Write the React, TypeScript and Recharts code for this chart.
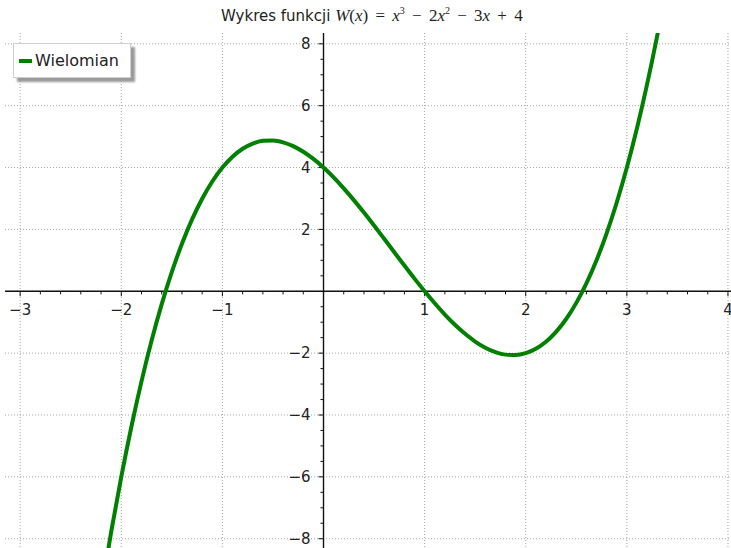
import React from 'react';
import {
  LineChart,
  Line,
  XAxis,
  YAxis,
  CartesianGrid,
  ReferenceLine,
  ReferenceDot,
  Legend,
} from 'recharts';

// W(x) sampled every 0.1 across the visible part of the curve
const xValues = [
  -2.2, -2.1, -2.0, -1.9, -1.8, -1.7, -1.6, -1.5, -1.4, -1.3, -1.2, -1.1, -1.0, -0.9, -0.8, -0.7, -0.6,
  -0.5, -0.4, -0.3, -0.2, -0.1, 0.0, 0.1, 0.2, 0.3, 0.4, 0.5, 0.6, 0.7, 0.8, 0.9, 1.0, 1.1, 1.2, 1.3,
  1.4, 1.5, 1.6, 1.7, 1.8, 1.9, 2.0, 2.1, 2.2, 2.3, 2.4, 2.5, 2.6, 2.7, 2.8, 2.9, 3.0, 3.1, 3.2, 3.3, 3.4,
];
const wValues = [
  -9.728, -7.781, -6.0, -4.379, -2.912, -1.593, -0.416, 0.625, 1.536, 2.323, 2.992, 3.549, 4.0, 4.351,
  4.608, 4.777, 4.864, 4.875, 4.816, 4.693, 4.512, 4.279, 4.0, 3.681, 3.328, 2.947, 2.544, 2.125, 1.696,
  1.263, 0.832, 0.409, 0.0, -0.389, -0.752, -1.083, -1.376, -1.625, -1.824, -1.967, -2.048, -2.061, -2.0,
  -1.859, -1.632, -1.313, -0.896, -0.375, 0.256, 1.003, 1.872, 2.869, 4.0, 5.271, 6.688, 8.257, 9.984,
];

const xTickLabels = [-3, -2, -1, 1, 2, 3, 4];
const yTickLabels = [-8, -6, -4, -2, 2, 4, 6, 8];
const xGrid = [-3, -2, -1, 0, 1, 2, 3, 4];
const yGrid = [-8, -6, -4, -2, 0, 2, 4, 6, 8];

const seriesName = 'Wielomian';
const green = '#008000';
const sans = '"DejaVu Sans", sans-serif';

const data = xValues.map((x, i) => ({ x, w: wValues[i] }));

// minor ticks: 0.2 on x, 0.5 on y
const xMinor = Array.from({ length: 36 }, (_, i) => Math.round((-3 + i * 0.2) * 10) / 10).filter(
  (v) => !Number.isInteger(v),
);
const yMinor = Array.from({ length: 33 }, (_, i) => -8 + i * 0.5).filter((v) => v % 2 !== 0);

const fmt = (v: number) => (v < 0 ? `\u2212${Math.abs(v)}` : `${v}`);

const LegendBox = () => (
  <div
    style={{
      width: 118,
      height: 35,
      boxSizing: 'border-box',
      background: '#fff',
      border: '1px solid #cfcfcf',
      boxShadow: '4px 4px 2px #9a9a9a',
      display: 'flex',
      alignItems: 'center',
      paddingLeft: 5,
      fontFamily: sans,
      fontSize: 16,
      color: '#222',
    }}
  >
    <span style={{ display: 'inline-block', width: 13, height: 4, background: green, marginRight: 3 }} />
    {seriesName}
  </div>
);

const Title = () => (
  <div
    style={{
      position: 'absolute',
      top: 5,
      left: 221,
      whiteSpace: 'nowrap',
      fontFamily: sans,
      fontSize: 15,
      color: '#222',
      zIndex: 2,
    }}
  >
    Wykres funkcji{' '}
    <span style={{ fontFamily: '"Liberation Serif", serif', fontSize: 17, wordSpacing: 3 }}>
      <i>W</i>(<i>x</i>) = <i>x</i>
      <sup style={{ fontSize: 10 }}>3</sup> − 2<i>x</i>
      <sup style={{ fontSize: 10 }}>2</sup> − 3<i>x</i> + 4
    </span>
  </div>
);

export default function App() {
  return (
    <div style={{ position: 'absolute', left: 0, top: 0, width: 731, height: 548, background: '#fff' }}>
      <Title />
      <LineChart width={731} height={548} data={data} margin={{ top: 33, right: 0, bottom: 0, left: 5 }}>
        <XAxis dataKey="x" type="number" domain={[-3.15, 4.03]} allowDataOverflow hide />
        <YAxis type="number" domain={[-8.3, 8.35]} allowDataOverflow hide />
        <CartesianGrid
          verticalValues={xGrid}
          horizontalValues={yGrid}
          stroke="#9a9a9a"
          strokeDasharray="1 2"
          strokeWidth={0.9}
        />
        <ReferenceLine y={0} stroke="#111" strokeWidth={1.4} />
        <ReferenceLine x={0} stroke="#111" strokeWidth={1.4} />
        {xMinor.map((v) => (
          <ReferenceLine key={`xm${v}`} segment={[{ x: v, y: 0 }, { x: v, y: -0.1 }]} stroke="#111" strokeWidth={1} />
        ))}
        {xTickLabels.map((v) => (
          <ReferenceLine key={`xM${v}`} segment={[{ x: v, y: 0 }, { x: v, y: -0.16 }]} stroke="#111" strokeWidth={1} />
        ))}
        {yMinor.map((v) => (
          <ReferenceLine key={`ym${v}`} segment={[{ x: 0, y: v }, { x: -0.03, y: v }]} stroke="#111" strokeWidth={1} />
        ))}
        {yTickLabels.map((v) => (
          <ReferenceLine key={`yM${v}`} segment={[{ x: 0, y: v }, { x: -0.05, y: v }]} stroke="#111" strokeWidth={1} />
        ))}
        {xTickLabels.map((v) => (
          <ReferenceDot
            key={`xl${v}`}
            x={v}
            y={0}
            r={0}
            fill="none"
            stroke="none"
            label={{ value: fmt(v), position: 'bottom', offset: 13, fill: '#222', fontSize: 15, fontFamily: sans }}
          />
        ))}
        {yTickLabels.map((v) => (
          <ReferenceDot
            key={`yl${v}`}
            x={0}
            y={v}
            r={0}
            fill="none"
            stroke="none"
            label={{ value: fmt(v), position: 'left', offset: 13, fill: '#222', fontSize: 15, fontFamily: sans }}
          />
        ))}
        <Line
          type="monotone"
          dataKey="w"
          name={seriesName}
          stroke={green}
          strokeWidth={4}
          dot={false}
          activeDot={false}
          isAnimationActive={false}
        />
        <Legend
          layout="vertical"
          align="center"
          verticalAlign="middle"
          content={<LegendBox />}
          wrapperStyle={{ top: 43, left: 13, width: 'auto' }}
        />
      </LineChart>
    </div>
  );
}
